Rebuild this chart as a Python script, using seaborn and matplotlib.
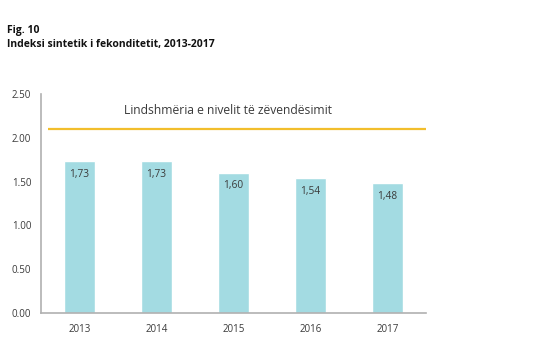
import matplotlib
matplotlib.use("Agg")
import matplotlib.pyplot as plt
import seaborn as sns
import pandas as pd
from matplotlib.ticker import FixedLocator

# --- data ---
YEARS = ["2013", "2014", "2015", "2016", "2017"]
TFR = [1.73, 1.73, 1.60, 1.54, 1.48]
REPLACEMENT = 2.1
REPLACEMENT_LABEL = "Lindshmëria e nivelit të zëvendësimit"
TITLE_1 = "Fig. 10"
TITLE_2 = "Indeksi sintetik i fekonditetit, 2013-2017"

BAR_COLOR = "#A3DBE2"
LINE_COLOR = "#F2BE2C"
AXIS_COLOR = "#B0B0B0"
TEXT_COLOR = "#3A3A3A"

sns.set_style("white")
plt.rcParams['font.family'] = ['Open Sans', 'DejaVu Sans']

df = pd.DataFrame({"Year": YEARS, "TFR": TFR})

fig = plt.figure(figsize=(5.36, 3.54), dpi=100)
ax = fig.add_axes([0.0765, 0.1158, 0.7185, 0.6187])

sns.barplot(data=df, x="Year", y="TFR", color=BAR_COLOR, width=0.4,
            saturation=1, ax=ax)

# value labels inside bars (decimal comma)
for i, v in enumerate(TFR):
    ax.annotate(f"{v:.2f}".replace(".", ","), (i, v), xytext=(0, -13),
                textcoords="offset pixels", ha="center", va="center",
                fontsize=7.3, color=TEXT_COLOR)

# replacement level line
ax.plot([-0.41, 4.5], [REPLACEMENT, REPLACEMENT], color=LINE_COLOR, lw=1.6,
        solid_capstyle="butt")
ax.text(1.93, 2.31, REPLACEMENT_LABEL, ha="center", va="center",
        fontsize=8.7, color=TEXT_COLOR)

ax.set_xlim(-0.5, 4.5)
ax.set_ylim(0, 2.5)
ax.set_yticks([0, 0.5, 1.0, 1.5, 2.0, 2.5])
ax.set_yticklabels([f"{t:.2f}" for t in [0, 0.5, 1.0, 1.5, 2.0, 2.5]])
ax.set_xlabel("")
ax.set_ylabel("")

ax.xaxis.set_minor_locator(FixedLocator([-0.5, 0.5, 1.5, 2.5, 3.5, 4.5]))
ax.tick_params(axis="x", which="major", length=0, pad=8, labelsize=7,
               labelcolor=TEXT_COLOR)
ax.tick_params(axis="x", which="minor", length=3, width=0.8, color=AXIS_COLOR,
               direction="out")
ax.tick_params(axis="y", length=3, width=0.8, color=AXIS_COLOR, direction="out",
               labelsize=7, labelcolor=TEXT_COLOR, pad=4)

sns.despine(ax=ax)
for side in ["left", "bottom"]:
    ax.spines[side].set_color(AXIS_COLOR)
    ax.spines[side].set_linewidth(1.2)

fig.text(7 / 536, 1 - 31 / 354, TITLE_1, fontsize=7.5, fontweight="bold",
         color="#111111", va="center")
fig.text(7 / 536, 1 - 45 / 354, TITLE_2, fontsize=7.5, fontweight="bold",
         color="#111111", va="center")

fig.savefig("out.png", dpi=100)
